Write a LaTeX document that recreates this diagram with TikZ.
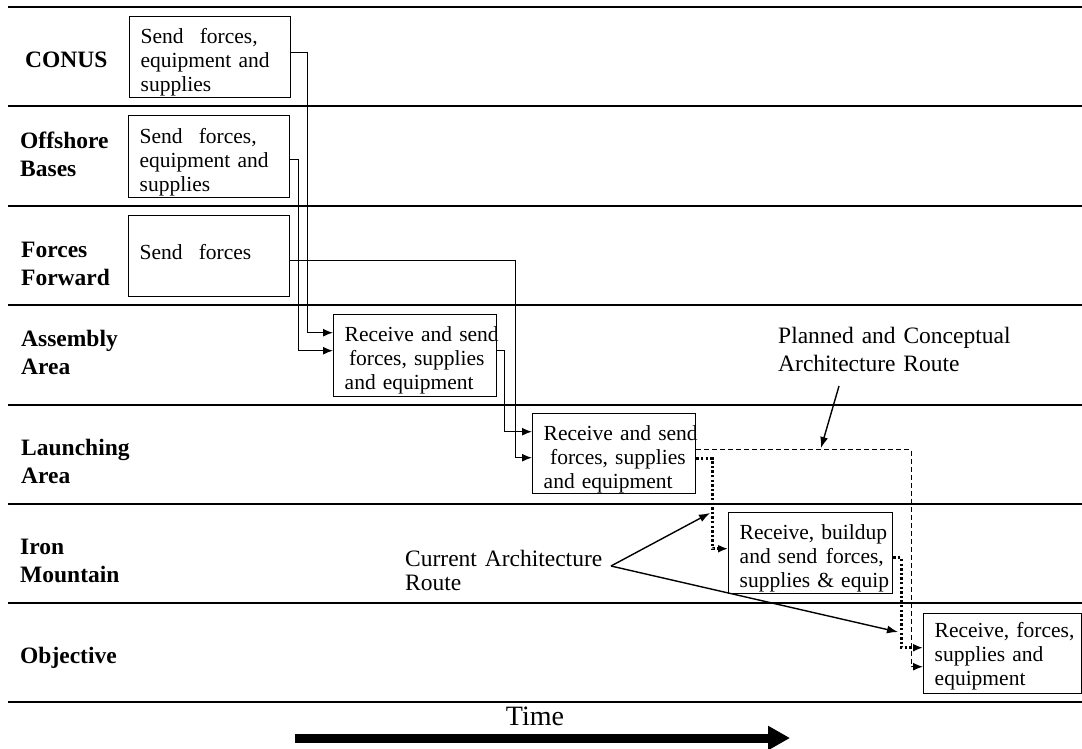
\documentclass[tikz,border=0pt]{standalone}
\usepackage{fontspec}
\setmainfont{Liberation Serif}
\usetikzlibrary{arrows.meta}
\begin{document}
\begin{tikzpicture}[x=1pt,y=-1pt,
  laneline/.style={line width=2pt},
  box/.style={draw, line width=1.4pt, rectangle, anchor=north west,
    inner xsep=11pt, inner ysep=0pt, align=left,
    font=\fontsize{21.5}{24}\selectfont, text height=17pt},
  lanelabel/.style={anchor=base west, inner sep=0pt, text width=140pt, align=left,
    font=\fontsize{23.5}{28.5}\selectfont\bfseries},
  note/.style={anchor=base west, inner sep=0pt, text width=260pt, align=left,
    font=\fontsize{23.5}{28}\selectfont},
  conn/.style={line width=1.3pt, -{Latex[length=10pt,width=8pt]}},
  curroute/.style={line width=2.6pt, dash pattern=on 2.4pt off 2.2pt, -{Latex[length=10pt,width=8pt]}},
  planroute/.style={line width=1.3pt, dash pattern=on 5pt off 3pt, -{Latex[length=10pt,width=8pt]}},
  pointer/.style={line width=1.4pt, -{Latex[length=11pt,width=8pt]}},
  timearrow/.style={line width=9pt, -{Triangle[length=22pt,width=23pt]}}
]
\useasboundingbox (0,0) rectangle (1082,748);

% lane lines
\foreach \yy in {7,106,206,305,405,504,603,702}
  \draw[laneline] (8,\yy) -- (1082,\yy);

% lane labels
\node[lanelabel] (lconus) at (25,67) {CONUS};
\node[lanelabel] (loff) at (20,148) {Offshore\\Bases};
\node[lanelabel] (lff) at (21,257) {Forces\\Forward};
\node[lanelabel] (lasm) at (21,346) {Assembly\\Area};
\node[lanelabel] (llau) at (21,455) {Launching\\Area};
\node[lanelabel] (liron) at (20,554) {Iron\\Mountain};
\node[lanelabel] (lobj) at (20,663) {Objective};

% boxes
\node[box, minimum width=161pt, minimum height=81pt, text width=139pt, text depth=44pt]
  (conus) at (129,16) {\mbox{Send\hspace{0.75em}forces,}\\\mbox{equipment and}\\\mbox{supplies}};
\node[box, minimum width=161pt, minimum height=82pt, text width=139pt, text depth=43pt]
  (offshore) at (128,115) {\mbox{Send\hspace{0.75em}forces,}\\\mbox{equipment and}\\\mbox{supplies}};
\node[box, minimum width=161pt, minimum height=81pt, text width=139pt, text depth=10pt]
  (ffwd) at (128,215) {\mbox{Send\hspace{0.75em}forces}};
\node[box, minimum width=163pt, minimum height=82pt, text width=141pt, text depth=45pt]
  (assembly) at (333,314) {\mbox{Receive and send}\\\mbox{\hspace{0.2em}forces, supplies}\\\mbox{and equipment}};
\node[box, minimum width=163pt, minimum height=80pt, text width=141pt, text depth=43pt]
  (launch) at (532,413) {\mbox{Receive and send}\\\mbox{\hspace{0.3em}forces, supplies}\\\mbox{and equipment}};
\node[box, minimum width=164pt, minimum height=81pt, text width=142pt, text depth=44pt]
  (iron) at (728,512) {\mbox{Receive, buildup}\\\mbox{and send\hspace{0.4em}forces,}\\\mbox{supplies \& equip}};
\node[box, minimum width=158pt, minimum height=80pt, text width=136pt, text depth=49pt]
  (objective) at (923,613) {\mbox{Receive, forces,}\\\mbox{supplies and}\\\mbox{equipment}};

% solid connectors
\draw[conn] ([yshift=4.5pt]conus.east) -- ++(16,0) |- ([yshift=23pt]assembly.west);
\draw[conn] ([yshift=-3pt]offshore.east) -- ++(8,0) |- ([yshift=5pt]assembly.west);
\draw[conn] ([yshift=-4.5pt]ffwd.east) -- ++(225,0) |- ([yshift=-4pt]launch.west);
\draw[conn] ([yshift=5pt]assembly.east) -- ++(7,0) |- ([yshift=22pt]launch.west);

% current architecture route (dotted)
\draw[curroute] ([yshift=-5pt]launch.east) -- ++(16,0) |- ([yshift=4.5pt]iron.west);
\draw[curroute] ([yshift=-4.5pt]iron.east) -- ++(8,0) |- ([yshift=6pt]objective.west);

% planned route (dashed)
\draw[planroute] ([yshift=4pt]launch.east) -- ++(215,0) |- ([yshift=-13pt]objective.west);

% annotations
\node[note] (planned) at (778,343) {Planned and Conceptual\\Architecture Route};
\node[note, font=\fontsize{23.5}{24}\selectfont] (current) at (405,566) {Current Architecture\\Route};

\coordinate (pfrom) at (839,386);
\coordinate (pto) at (821,448);
\draw[pointer] (pfrom) -- (pto);

\coordinate (cfrom) at (611,566);
\coordinate (cto1) at (710,513);
\coordinate (cto2) at (898,632);
\draw[pointer] (cfrom) -- (cto1);
\draw[pointer] (cfrom) -- (cto2);

% time
\node[anchor=base, inner sep=0pt, font=\fontsize{28}{30}\selectfont] (time) at (535,725) {Time};
\coordinate (tstart) at (295,738);
\coordinate (tend) at (790,738);
\draw[timearrow] (tstart) -- (tend);
\end{tikzpicture}
\end{document}
